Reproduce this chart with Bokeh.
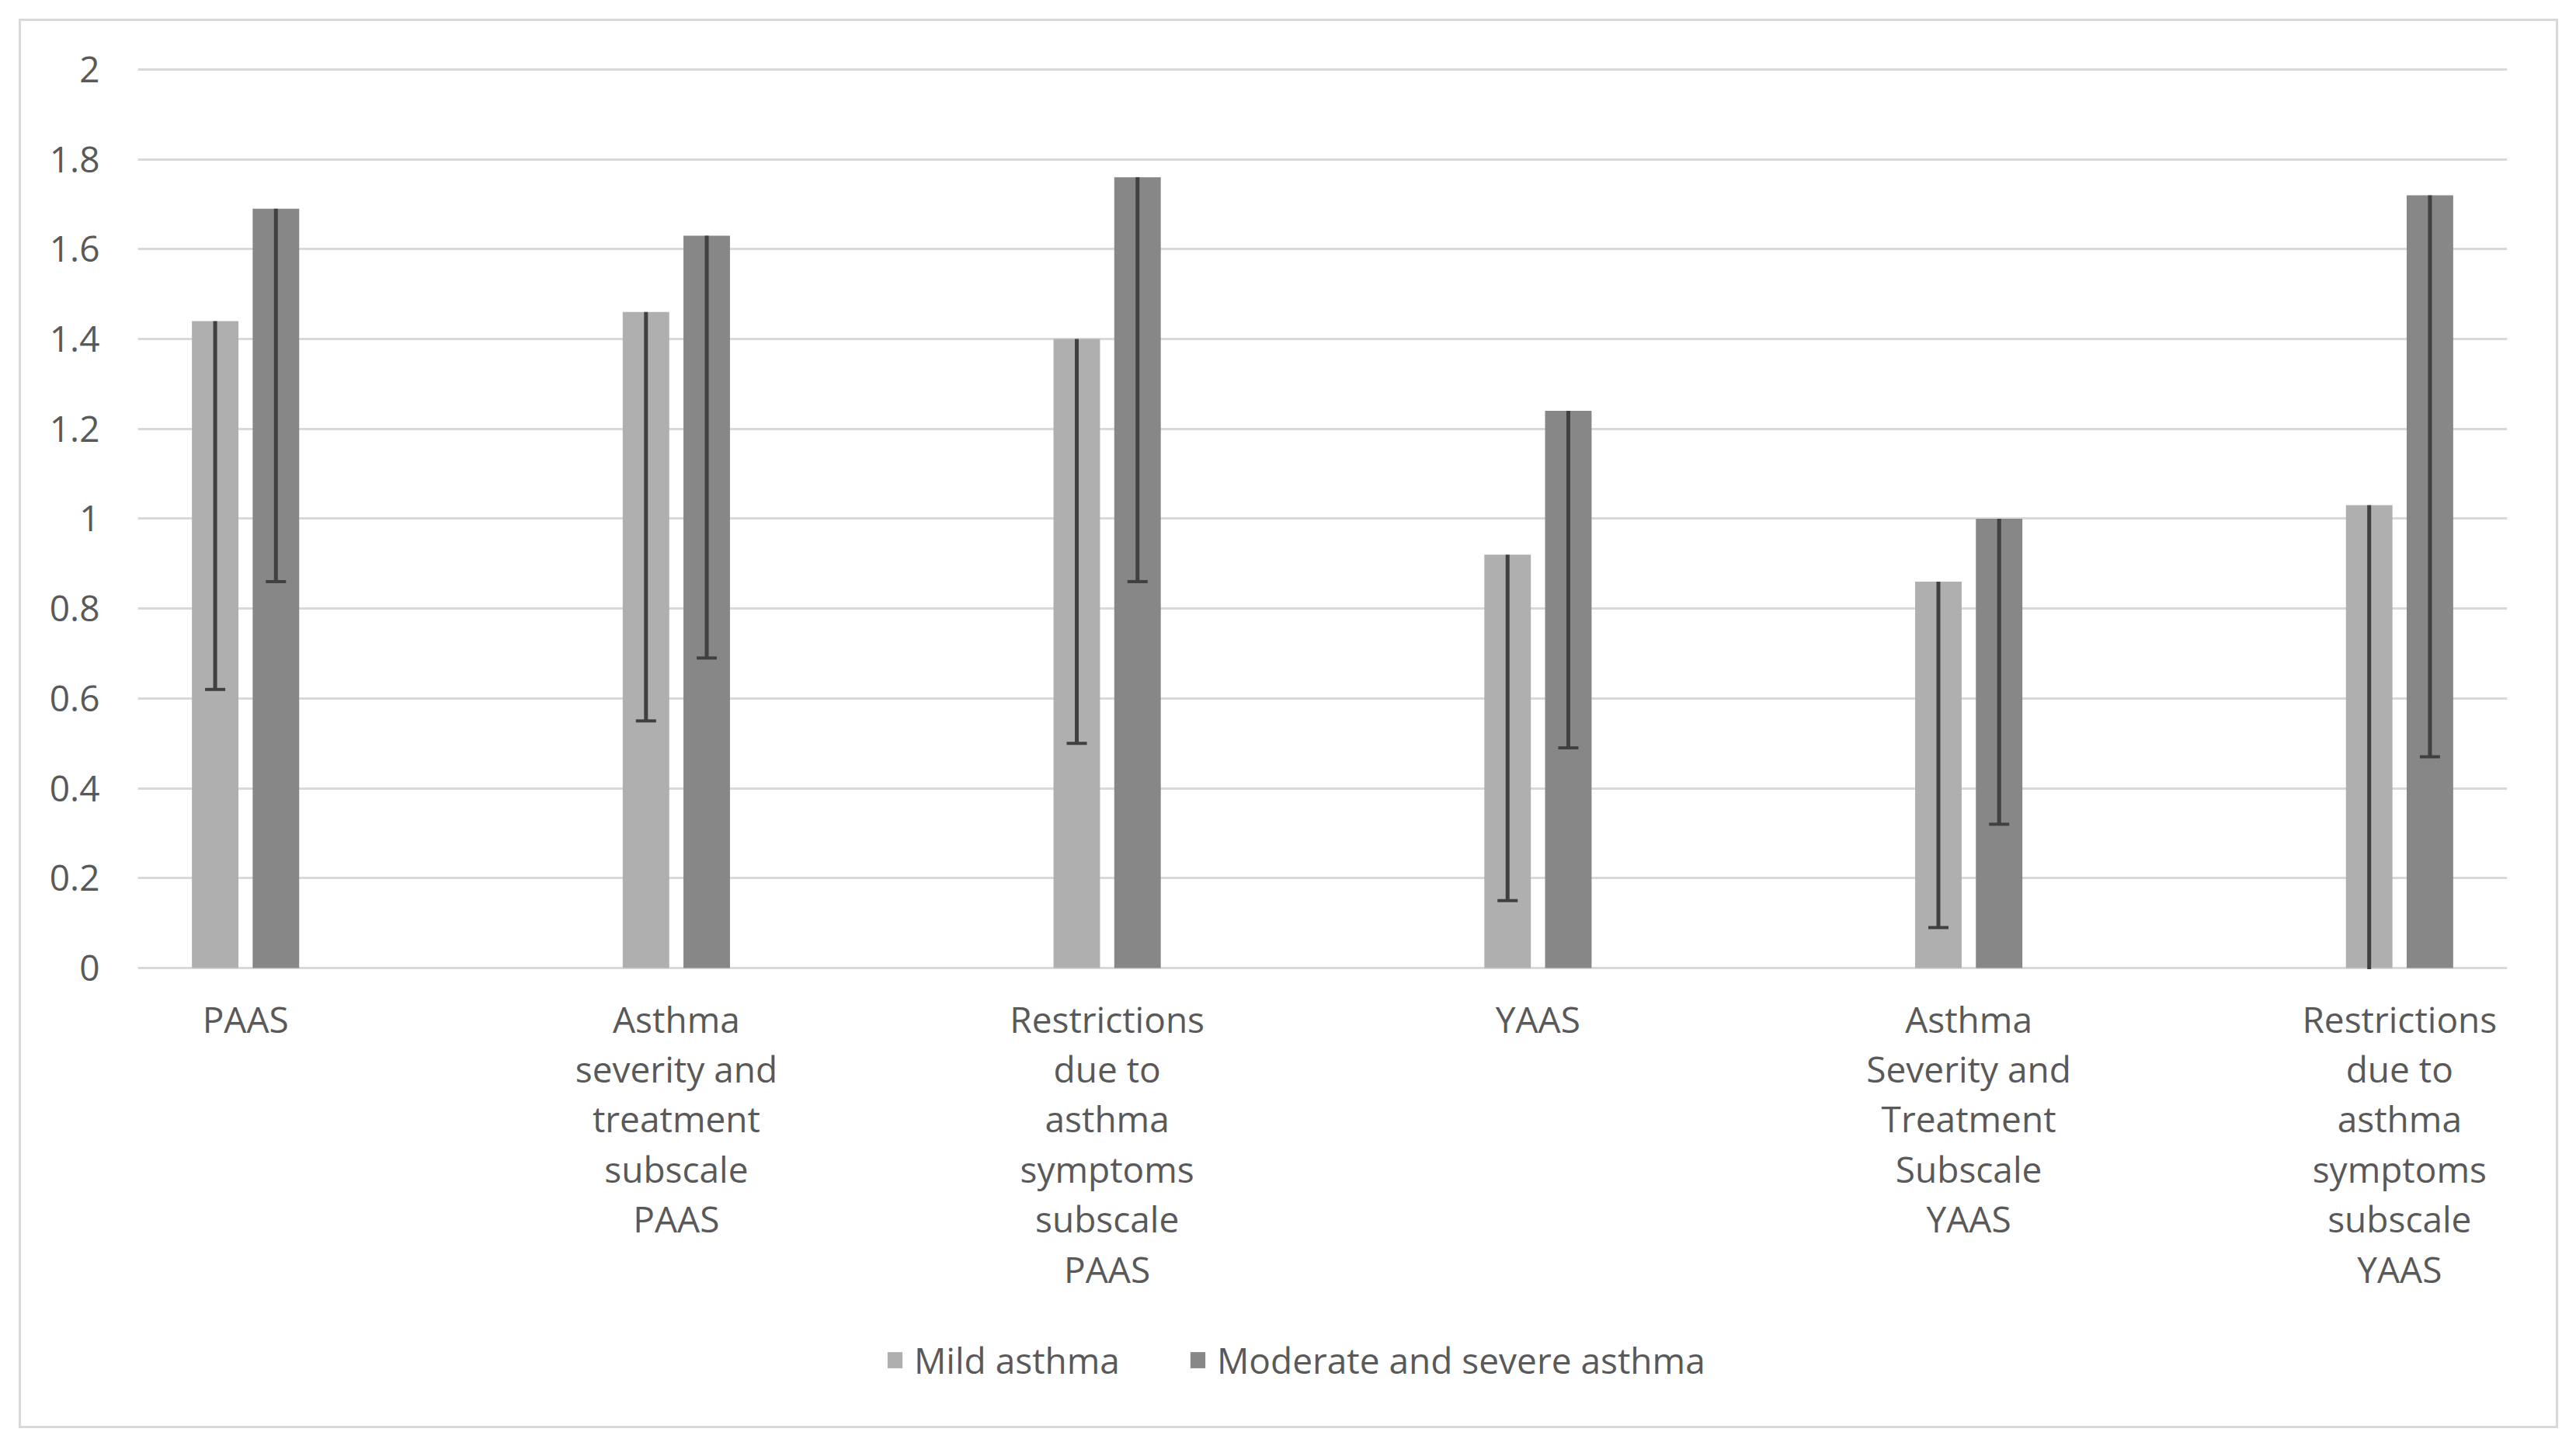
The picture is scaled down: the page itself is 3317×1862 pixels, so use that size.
from bokeh.plotting import figure
from bokeh.models import (FixedTicker, CustomJSTickFormatter, Legend, LegendItem,
                          ColumnDataSource, Range1d)
from bokeh.transform import dodge
from bokeh.core.properties import value
from bokeh.embed import file_html
from bokeh.resources import INLINE

# ---------------- data ----------------
categories = [
    "PAAS",
    "Asthma\nseverity and\ntreatment\nsubscale\nPAAS",
    "Restrictions\ndue to\nasthma\nsymptoms\nsubscale\nPAAS",
    "YAAS",
    "Asthma\nSeverity and\nTreatment\nSubscale\nYAAS",
    "Restrictions\ndue to\nasthma\nsymptoms\nsubscale\nYAAS",
]
series_names = ["Mild asthma", "Moderate and severe asthma"]
mild = [1.44, 1.46, 1.40, 0.92, 0.86, 1.03]
mild_low = [0.62, 0.55, 0.50, 0.15, 0.09, -0.05]
severe = [1.69, 1.63, 1.76, 1.24, 1.00, 1.72]
severe_low = [0.86, 0.69, 0.86, 0.49, 0.32, 0.47]
y_ticks = [0, 0.2, 0.4, 0.6, 0.8, 1, 1.2, 1.4, 1.6, 1.8, 2]

# ---------------- styling / layout ----------------
FONT = "Open Sans"
TXT = "#595959"
FS = "46px"
C_MILD = "#afafaf"
C_SEV = "#878787"
C_ERR = "#404040"
GRID = "#d9d9d9"
OFF = 0.0705
BW = 0.108

W, H = 3301, 1846
TOP_PX, ZERO_PX = 86, 1246          # frame top and y=0 line (px from top)
Y_MAX = 2.005
PX_PER_UNIT = (ZERO_PX - TOP_PX) / Y_MAX
Y_MIN = -(H - ZERO_PX) / PX_PER_UNIT  # frame extends to the bottom to host labels/legend
MASK_TOP = -1.6 / PX_PER_UNIT         # just below the zero gridline

src = ColumnDataSource(dict(x=list(range(len(categories))), mild=mild, mild_low=mild_low,
                            severe=severe, severe_low=severe_low, label=categories))

p = figure(width=W, height=H, x_range=Range1d(-0.25, 5.25), y_range=Range1d(Y_MIN, Y_MAX),
           output_backend="svg", toolbar_location=None, title=None,
           min_border_left=177, min_border_right=73, min_border_top=TOP_PX, min_border_bottom=0)
p.outline_line_color = None
p.background_fill_color = "white"
p.border_fill_color = "white"
p.stylesheets = [
    ":host::after { content: ''; position: absolute; left: 24px; top: 24px; "
    "width: 3264px; height: 1809px; border: 3px solid #d9d9d9; pointer-events: none; }"
]

r_mild = p.vbar(x=dodge("x", -OFF, range=p.x_range), top="mild", width=BW, bottom=0,
                source=src, fill_color=C_MILD, line_color=None)
r_sev = p.vbar(x=dodge("x", OFF, range=p.x_range), top="severe", width=BW, bottom=0,
               source=src, fill_color=C_SEV, line_color=None)

for off, top, low in [(-OFF, "mild", "mild_low"), (OFF, "severe", "severe_low")]:
    xx = dodge("x", off, range=p.x_range)
    p.segment(x0=xx, y0=top, x1=xx, y1=low, source=src, line_color=C_ERR, line_width=5)
    p.scatter(x=xx, y=low, source=src, marker="dash", size=26, line_color=C_ERR, line_width=4)

# white mask below zero so error bars reaching below the axis end at the axis
p.vbar(x="x", top=MASK_TOP, bottom=-0.2, width=1.0, source=src,
       fill_color="white", line_color=None)

# category labels under the axis
p.text(x="x", y=0, text="label", source=src, y_offset=34,
       text_font=value(FONT), text_font_size=FS, text_color=TXT,
       text_align="center", text_baseline="top", text_line_height=1.04)

# axes
p.xgrid.grid_line_color = None
p.ygrid.grid_line_color = GRID
p.ygrid.grid_line_width = 3
p.ygrid.ticker = FixedTicker(ticks=y_ticks)
p.xaxis.visible = False

p.yaxis.ticker = FixedTicker(ticks=y_ticks)
p.yaxis.formatter = CustomJSTickFormatter(code="return String(Math.round(tick * 10) / 10);")
ax = p.yaxis[0]
ax.axis_line_color = None
ax.major_tick_line_color = None
ax.minor_tick_line_color = None
ax.major_tick_out = 0
ax.major_tick_in = 0
ax.major_label_text_font = FONT
ax.major_label_text_font_size = FS
ax.major_label_text_color = TXT
ax.major_label_standoff = 49

legend = Legend(items=[LegendItem(label=series_names[0], renderers=[r_mild]),
                       LegendItem(label=series_names[1], renderers=[r_sev])],
                orientation="horizontal", location=(963, 64),
                label_text_font=FONT, label_text_font_size=FS, label_text_color=TXT,
                glyph_width=24, glyph_height=26, label_standoff=13, spacing=88,
                padding=0, margin=0, border_line_color=None, background_fill_alpha=0)
p.add_layout(legend)

open("out.html", "w").write(file_html(p, INLINE))
